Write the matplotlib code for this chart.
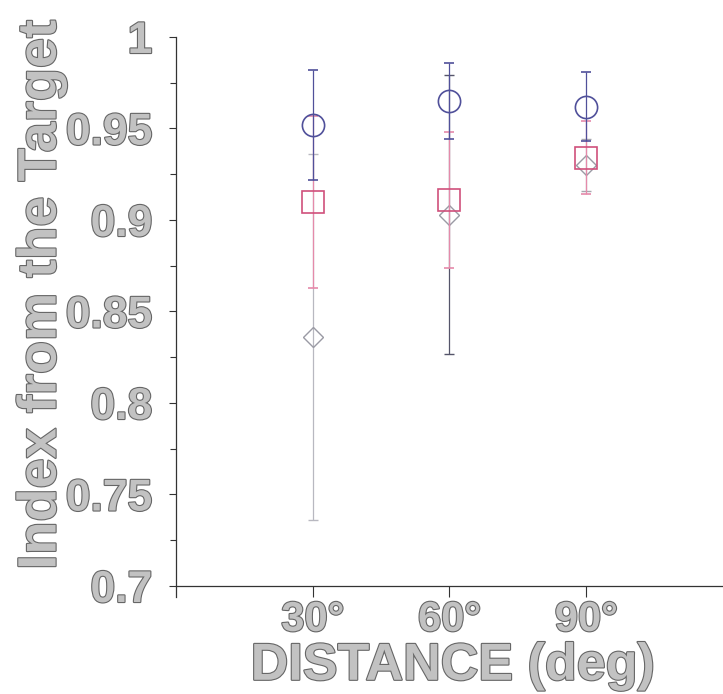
import matplotlib
matplotlib.use('Agg')
import matplotlib.pyplot as plt
import matplotlib.patheffects as pe
from matplotlib.ticker import MultipleLocator

# dati
distances = ['30°', '60°', '90°']
circle_mean = [0.952, 0.965, 0.962]
circle_err = [0.030, 0.021, 0.019]
square_mean = [0.910, 0.911, 0.934]
square_err = [0.047, 0.037, 0.020]
diamond_mean = [0.836, 0.903, 0.930]
diamond_err = [0.100, 0.076, 0.014]

plt.rcParams['font.family'] = ['Liberation Sans', 'DejaVu Sans']

# effetto testo grigio con contorno scuro
txt_fx = [pe.withStroke(linewidth=1.6, foreground='#666666')]
txt_color = '#c2c2c2'

fig = plt.figure(figsize=(7.23, 6.94), dpi=100)
ax = fig.add_axes([0.2434, 0.1398, 0.7566, 0.8069])

x = [1, 2, 3]

# diamanti (grigio), linee di errore con tono diverso per punto
diamond_line = ['#b8b8c0', '#55556a', '#a8a8b0']
for i in range(len(x)):
    ax.errorbar(x[i], diamond_mean[i], yerr=diamond_err[i], fmt='D', ms=10,
                mfc='none', mec='#9a9aa4', mew=1.0, ecolor=diamond_line[i],
                elinewidth=0.9, capsize=3.5, capthick=0.9, zorder=2)

# quadrati (rosa)
ax.errorbar(x, square_mean, yerr=square_err, fmt='s', ms=16, mfc='none',
            mec='#d0507c', mew=1.2, ecolor='#e58aaa', elinewidth=0.9,
            capsize=3.5, capthick=0.9, zorder=3)

# cerchi (blu)
ax.errorbar(x, circle_mean, yerr=circle_err, fmt='o', ms=16, mfc='none',
            mec='#50509a', mew=1.2, ecolor='#50509a', elinewidth=0.9,
            capsize=3.5, capthick=0.9, zorder=4)

ax.set_xlim(0, 4)
ax.set_ylim(0.694, 1.0)

ax.spines['top'].set_visible(False)
ax.spines['right'].set_visible(False)
ax.spines['bottom'].set_position(('data', 0.7))
for s in ('left', 'bottom'):
    ax.spines[s].set_color('#333333')
    ax.spines[s].set_linewidth(0.9)

ax.set_xticks(x)
ax.set_xticklabels(distances)
ax.yaxis.set_major_locator(MultipleLocator(0.05))
ax.yaxis.set_minor_locator(MultipleLocator(0.025))
ax.set_yticks([0.7, 0.75, 0.8, 0.85, 0.9, 0.95, 1.0])
ax.set_yticklabels(['0.7', '0.75', '0.8', '0.85', '0.9', '0.95', '1'])

ax.tick_params(axis='y', which='major', length=5, width=0.8, color='#333333', pad=12)
ax.tick_params(axis='y', which='minor', length=4, width=0.8, color='#333333')
ax.tick_params(axis='x', length=8, width=0.8, color='#333333', pad=2)

for lab in ax.get_yticklabels() + ax.get_xticklabels():
    lab.set_fontweight('bold')
    lab.set_color(txt_color)
    lab.set_path_effects(txt_fx)
for lab in ax.get_yticklabels():
    lab.set_fontsize(32)
for lab in ax.get_xticklabels():
    lab.set_fontsize(30)

ax.set_ylabel('Index from the Target', fontsize=39, fontweight='bold',
              color=txt_color, path_effects=txt_fx)
ax.yaxis.set_label_coords(-0.200, 0.539)
ax.set_xlabel('DISTANCE (deg)', fontsize=37.5, fontweight='bold',
              color=txt_color, path_effects=txt_fx, va='top')
ax.xaxis.set_label_coords(0.506, -0.080)

fig.savefig('out.png', dpi=100)
